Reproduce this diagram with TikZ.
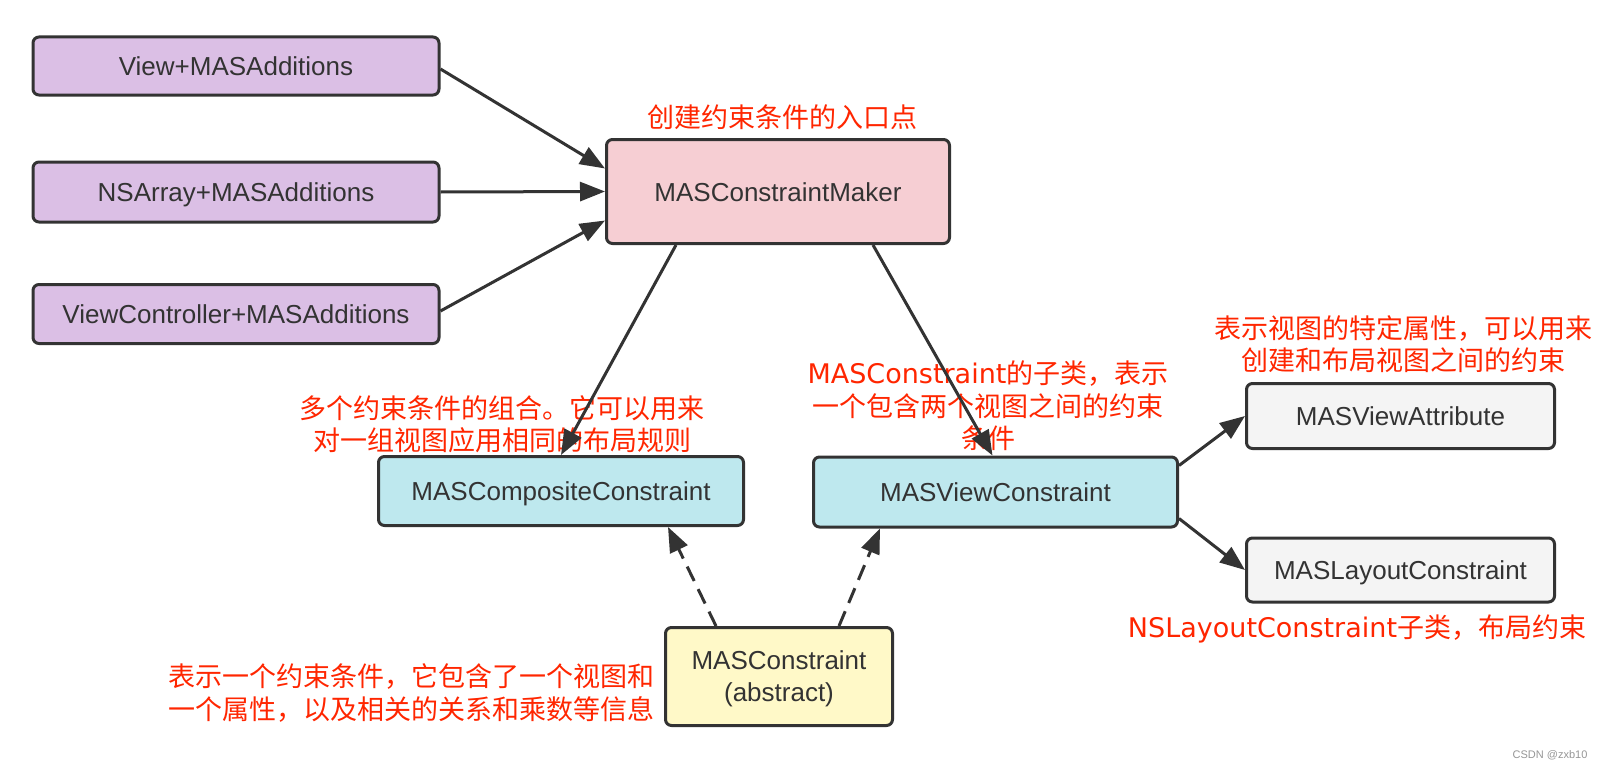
\documentclass[tikz,border=0pt]{standalone}
\usepackage{fontspec}
\setmainfont{Liberation Sans}
\newfontfamily\cjk{Noto Sans CJK SC}
\newfontfamily\lat{DejaVu Sans}
\usetikzlibrary{arrows.meta}
\definecolor{ink}{RGB}{51,51,51}
\definecolor{lbl}{RGB}{255,38,0}
\definecolor{fillpurple}{RGB}{219,191,229}
\definecolor{fillpink}{RGB}{246,206,211}
\definecolor{fillcyan}{RGB}{190,232,238}
\definecolor{fillgray}{RGB}{244,244,244}
\definecolor{fillyellow}{RGB}{255,249,200}
\definecolor{wmgray}{RGB}{150,150,150}
\tikzset{
  box/.style={draw=ink, line width=3pt, rounded corners=6pt, text=ink,
    font=\fontsize{26}{32}\selectfont, align=center, inner sep=0pt},
  onebox/.style={box, text height=19pt, text depth=0pt},
  note/.style={text=lbl, font=\cjk\fontsize{27}{32.5}\selectfont, align=center, inner sep=0pt},
  link/.style={draw=ink, line width=3pt, -{Triangle[length=25pt,width=19pt]}},
  dlink/.style={link, dash pattern=on 16pt off 9pt},
}
\begin{document}
\begin{tikzpicture}[x=1pt,y=-1pt]
\useasboundingbox[fill=white] (0,0) rectangle (1600,768);

% red annotations
\node[note] (t1) at (782,117) {创建约束条件的入口点};
\node[note] (t2) at (502,424) {多个约束条件的组合。它可以用来\\对一组视图应用相同的布局规则};
\node[note] (t3) at (988,406) {{\lat MASConstraint}的子类，表示\\一个包含两个视图之间的约束\\条件};
\node[note] (t4) at (1403,344) {表示视图的特定属性，可以用来\\创建和布局视图之间的约束};
\node[note] (t5) at (1357,629) {{\lat NSLayoutConstraint}子类，布局约束};
\node[note, anchor=west, align=left] (t6) at (168,693) {表示一个约束条件，它包含了一个视图和\\一个属性，以及相关的关系和乘数等信息};
\node[text=wmgray, font=\fontsize{11}{13}\selectfont, inner sep=0pt] (wm) at (1550,755) {CSDN @zxb10};

% boxes
\node[onebox, fill=fillpurple, minimum width=406pt, minimum height=58pt] (v1) at (236,66) {View+MASAdditions};
\node[onebox, fill=fillpurple, minimum width=406pt, minimum height=60pt] (v2) at (236,192) {NSArray+MASAdditions};
\node[onebox, fill=fillpurple, minimum width=406pt, minimum height=59pt] (v3) at (236,314) {ViewController+MASAdditions};
\node[onebox, fill=fillpink, minimum width=343pt, minimum height=104pt] (maker) at (778,191.5) {MASConstraintMaker};
\node[onebox, fill=fillcyan, minimum width=365pt, minimum height=69pt] (comp) at (561,491) {MASCompositeConstraint};
\node[onebox, fill=fillcyan, minimum width=364pt, minimum height=70pt] (vc) at (995.5,492) {MASViewConstraint};
\node[onebox, fill=fillgray, minimum width=308pt, minimum height=65pt] (va) at (1400.5,416) {MASViewAttribute};
\node[onebox, fill=fillgray, minimum width=308pt, minimum height=64pt] (lc) at (1400.5,570) {MASLayoutConstraint};
\node[box, text depth=0pt, fill=fillyellow, minimum width=227pt, minimum height=98pt] (mc) at (779,676.5) {MASConstraint\\(abstract)};

% connectors
\draw[link] ([yshift=-3pt]v1.east) -- ([yshift=23pt]maker.west);
\draw[link] (v2.east) -- (maker.west);
\draw[link] ([yshift=3pt]v3.east) -- ([yshift=-29pt]maker.west);
\draw[link] ([xshift=71pt]maker.south west) -- (comp.north);
\draw[link] ([xshift=-78pt]maker.south east) -- ([xshift=-3pt]vc.north);
\draw[link] ([yshift=-10pt]vc.north east) -- (va.west);
\draw[link] ([yshift=10pt]vc.south east) -- (lc.west);
\draw[dlink] ([xshift=52pt]mc.north west) -- ([xshift=-77pt]comp.south east);
\draw[dlink] ([xshift=-55pt]mc.north east) -- ([xshift=68pt]vc.south west);
\end{tikzpicture}
\end{document}
